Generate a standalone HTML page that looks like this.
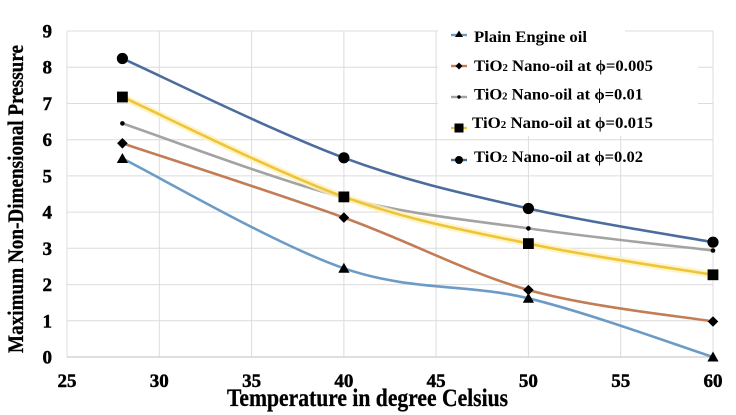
<!DOCTYPE html>
<html>
<head>
<meta charset="utf-8">
<style>
html,body{margin:0;padding:0;background:#fff;}
svg{display:block;}
text{font-family:"Liberation Serif","DejaVu Serif",serif;font-weight:bold;fill:#000;}
</style>
</head>
<body>
<svg width="736" height="415" viewBox="0 0 736 415" xmlns="http://www.w3.org/2000/svg">
<rect x="0" y="0" width="736" height="415" fill="#fff"/>
<!-- gridlines horizontal -->
<g stroke="#dcdcdc" stroke-width="1" fill="none">
<line x1="67" y1="31" x2="713" y2="31"/>
<line x1="67" y1="67.2" x2="713" y2="67.2"/>
<line x1="67" y1="103.5" x2="713" y2="103.5"/>
<line x1="67" y1="139.7" x2="713" y2="139.7"/>
<line x1="67" y1="175.9" x2="713" y2="175.9"/>
<line x1="67" y1="212.1" x2="713" y2="212.1"/>
<line x1="67" y1="248.3" x2="713" y2="248.3"/>
<line x1="67" y1="284.6" x2="713" y2="284.6"/>
<line x1="67" y1="320.8" x2="713" y2="320.8"/>
<!-- vertical -->
<line x1="67" y1="31" x2="67" y2="357"/>
<line x1="159.3" y1="31" x2="159.3" y2="357"/>
<line x1="251.6" y1="31" x2="251.6" y2="357"/>
<line x1="343.9" y1="31" x2="343.9" y2="357"/>
<line x1="436.1" y1="31" x2="436.1" y2="357"/>
<line x1="528.4" y1="31" x2="528.4" y2="357"/>
<line x1="620.7" y1="31" x2="620.7" y2="357"/>
<line x1="713" y1="31" x2="713" y2="357"/>
</g>
<line x1="67" y1="357" x2="713" y2="357" stroke="#cccccc" stroke-width="1.2"/>

<!-- legend background -->
<rect x="438" y="22" width="187" height="28" fill="#fff"/>
<rect x="438" y="50" width="260" height="86" fill="#fff"/>

<!-- Series A: Plain engine oil -->
<path d="M122.4,158.5 C159.3,176.8 276.2,245.0 343.9,268.3 C411.6,291.6 466.9,283.5 528.4,298.3 C589.9,313.1 682.2,347.2 713,357" fill="none" stroke="#6c9cc6" stroke-width="2.6"/>
<g fill="#000">
<polygon points="122.4,153 116.8,163 128,163"/>
<polygon points="343.9,262.8 338.3,272.8 349.5,272.8"/>
<polygon points="528.4,292.8 522.8,302.8 534,302.8"/>
<polygon points="713,351.5 707.4,361.5 718.6,361.5"/>
</g>

<!-- Series B: 0.005 -->
<path d="M122.4,143.3 C159.3,155.7 276.2,193.2 343.9,217.6 C411.6,242.05 466.9,272.7 528.4,290 C589.9,307.3 682.2,316.25 713,321.5" fill="none" stroke="#c27d55" stroke-width="2.6"/>
<g fill="#000">
<polygon points="122.4,138 127.7,143.3 122.4,148.6 117.1,143.3"/>
<polygon points="343.9,212.3 349.2,217.6 343.9,222.9 338.6,217.6"/>
<polygon points="528.4,284.7 533.7,290 528.4,295.3 523.1,290"/>
<polygon points="713,316.2 718.3,321.5 713,326.8 707.7,321.5"/>
</g>

<!-- Series C: 0.01 -->
<path d="M122.4,123.4 C159.3,135.8 276.2,180.1 343.9,197.6 C411.6,215.1 466.9,219.6 528.4,228.4 C589.9,237.2 682.2,246.8 713,250.5" fill="none" stroke="#a3a3a3" stroke-width="2.6"/>
<g fill="#000">
<circle cx="122.4" cy="123.4" r="2.3"/>
<circle cx="343.9" cy="197.6" r="2.3"/>
<circle cx="528.4" cy="228.4" r="2.3"/>
<circle cx="713" cy="250.5" r="2.3"/>
</g>

<!-- Series D: 0.015 -->
<path d="M122.4,97 C159.3,113.65 276.2,172.5 343.9,196.9 C411.6,221.3 466.9,230.6 528.4,243.6 C589.9,256.6 682.2,269.6 713,274.8" fill="none" stroke="#fff1b8" stroke-width="7" opacity="0.8"/>
<path d="M122.4,97 C159.3,113.65 276.2,172.5 343.9,196.9 C411.6,221.3 466.9,230.6 528.4,243.6 C589.9,256.6 682.2,269.6 713,274.8" fill="none" stroke="#eec43a" stroke-width="2.6"/>
<g fill="#000">
<rect x="117" y="91.6" width="10.8" height="10.8"/>
<rect x="338.5" y="191.5" width="10.8" height="10.8"/>
<rect x="523" y="238.2" width="10.8" height="10.8"/>
<rect x="707.6" y="269.4" width="10.8" height="10.8"/>
</g>

<!-- Series E: 0.02 -->
<path d="M122.4,58.5 C159.3,75.05 276.2,132.8 343.9,157.8 C411.6,182.8 466.9,194.4 528.4,208.5 C589.9,222.6 682.2,236.6 713,242.2" fill="none" stroke="#4b6d9d" stroke-width="2.6"/>
<g fill="#000">
<circle cx="122.4" cy="58.5" r="5.6"/>
<circle cx="343.9" cy="157.8" r="5.6"/>
<circle cx="528.4" cy="208.5" r="5.6"/>
<circle cx="713" cy="242.2" r="5.6"/>
</g>

<!-- Y tick labels -->
<g font-size="19" font-weight="bold" text-anchor="end" stroke="#000" stroke-width="0.45">
<text x="52" y="37.5">9</text>
<text x="52" y="73.7">8</text>
<text x="52" y="110">7</text>
<text x="52" y="146.2">6</text>
<text x="52" y="182.4">5</text>
<text x="52" y="218.6">4</text>
<text x="52" y="254.8">3</text>
<text x="52" y="291.1">2</text>
<text x="52" y="327.3">1</text>
<text x="52" y="363.5">0</text>
</g>

<!-- X tick labels -->
<g font-size="19" font-weight="bold" text-anchor="middle" stroke="#000" stroke-width="0.45">
<text x="67" y="387">25</text>
<text x="159.3" y="387">30</text>
<text x="251.6" y="387">35</text>
<text x="343.9" y="387">40</text>
<text x="436.1" y="387">45</text>
<text x="528.4" y="387">50</text>
<text x="620.7" y="387">55</text>
<text x="713" y="387">60</text>
</g>

<!-- Axis titles -->
<text x="227" y="406" font-size="25" font-weight="bold" stroke="#000" stroke-width="0.3" textLength="281" lengthAdjust="spacingAndGlyphs">Temperature in degree Celsius</text>
<text transform="translate(23,353) rotate(-90)" x="0" y="0" font-size="22" font-weight="bold" stroke="#000" stroke-width="0.3" textLength="308" lengthAdjust="spacingAndGlyphs">Maximum Non-Dimensional Pressure</text>

<!-- Legend -->
<g stroke-width="2.4">
<line x1="451" y1="35" x2="467" y2="35" stroke="#6c9cc6"/>
<line x1="451" y1="66" x2="467" y2="66" stroke="#c27d55"/>
<line x1="451" y1="97" x2="467" y2="97" stroke="#a3a3a3"/>
<line x1="451" y1="128" x2="467" y2="128" stroke="#eec43a"/>
<line x1="451" y1="160" x2="467" y2="160" stroke="#4b6d9d"/>
</g>
<g fill="#000">
<polygon points="459,30.5 455,37 463,37"/>
<polygon points="459,62.5 462.5,66 459,69.5 455.5,66"/>
<circle cx="459" cy="97" r="1.7"/>
<rect x="454.5" y="123.5" width="9" height="9"/>
<circle cx="459" cy="160" r="4"/>
</g>
<g font-size="15.5" font-weight="bold">
<text x="474" y="42" textLength="113" lengthAdjust="spacingAndGlyphs">Plain Engine oil</text>
<text x="474" y="71" textLength="179" lengthAdjust="spacingAndGlyphs">TiO<tspan font-size="10">2</tspan> Nano-oil at ϕ=0.005</text>
<text x="474" y="99.5" textLength="169" lengthAdjust="spacingAndGlyphs">TiO<tspan font-size="10">2</tspan> Nano-oil at ϕ=0.01</text>
<text x="472" y="128" textLength="181" lengthAdjust="spacingAndGlyphs">TiO<tspan font-size="10">2</tspan> Nano-oil at ϕ=0.015</text>
<text x="474" y="162" textLength="169" lengthAdjust="spacingAndGlyphs">TiO<tspan font-size="10">2</tspan> Nano-oil at ϕ=0.02</text>
</g>
</svg>
</body>
</html>
